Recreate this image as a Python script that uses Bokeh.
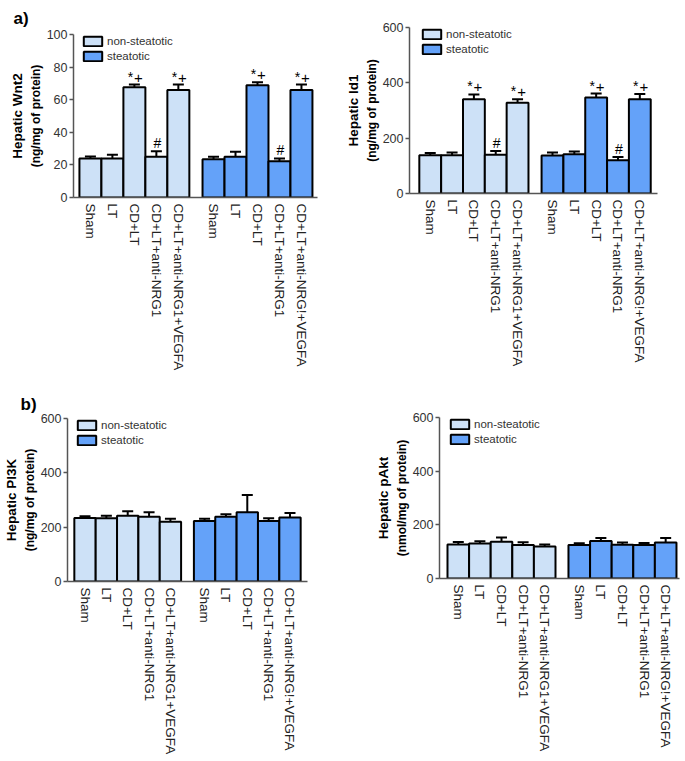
from bokeh.plotting import figure
from bokeh.models import (ColumnDataSource, Whisker, TeeHead, FixedTicker, Legend,
                          LegendItem, Title, Range1d)
from bokeh.layouts import column, row
from bokeh.embed import file_html
from bokeh.resources import INLINE
from bokeh.core.properties import value

FONT = "Liberation Sans"

# ---------------- data ----------------
groups = ["non-steatotic", "steatotic"]
labels_non = ["Sham", "LT", "CD+LT", "CD+LT+anti-NRG1", "CD+LT+anti-NRG1+VEGFA"]
labels_st = ["Sham", "LT", "CD+LT", "CD+LT+anti-NRG1", "CD+LT+anti-NRG!+VEGFA"]

wnt2_non = [24.0, 24.0, 67.6, 25.0, 66.0]
wnt2_non_err = [1.2, 2.2, 1.7, 3.3, 3.3]
wnt2_st = [23.4, 25.0, 68.9, 22.3, 66.0]
wnt2_st_err = [1.6, 3.0, 1.8, 1.7, 3.3]
wnt2_marks = ["", "", "*+", "#", "*+"]

id1_non = [138, 138, 341, 140, 328]
id1_non_err = [8, 10, 17, 14, 13]
id1_st = [137, 142, 347, 120, 341]
id1_st_err = [11, 10, 14, 12, 19]
id1_marks = ["", "", "*+", "#", "*+"]

pi3k_non = [234, 233, 242, 238, 220]
pi3k_non_err = [6, 9, 17, 17, 11]
pi3k_st = [223, 238, 255, 223, 236]
pi3k_st_err = [8, 10, 63, 10, 16]
pi3k_marks = ["", "", "", "", ""]

pakt_non = [127, 130, 137, 125, 119]
pakt_non_err = [9, 9, 16, 10, 8]
pakt_st = [125, 140, 126, 125, 134]
pakt_st_err = [6, 11, 8, 7, 17]
pakt_marks = ["", "", "", "", ""]

wnt2_ticks = [0, 20, 40, 60, 80, 100]
big_ticks = [0, 200, 400, 600]

group_colors = ["#cde1f7", "#64a2f9"]
GAP = 6   # gap between the two groups (bar width = 10)
BAR = 10


def make_panel(vals, errs, marks, y_end, y_ticks, title1, title2, width, height,
               fl, ft, fw, fh, x_start, x_end, t_off, leg_x, tag=None, tag_off=None,
               tag_standoff=10):
    p = figure(width=width, height=height, x_range=Range1d(x_start, x_end),
               y_range=Range1d(0, y_end), output_backend="svg",
               toolbar_location=None, title_location=None,
               min_border_left=fl, min_border_top=ft,
               min_border_right=width - fl - fw, min_border_bottom=height - ft - fh,
               background_fill_color="white", border_fill_color="white")
    p.xgrid.visible = False
    p.ygrid.visible = False
    p.outline_line_color = None

    n = len(labels_non)
    all_x, all_lab = [], []
    items = []
    for g in range(2):
        labs = labels_non if g == 0 else labels_st
        xs = [g * (n * BAR + GAP) + i * BAR + BAR // 2 for i in range(n)]
        upper = [v + e for v, e in zip(vals[g], errs[g])]
        src = ColumnDataSource(dict(
            x=xs, top=vals[g], upper=upper,
            star=["*" if "*" in m else "" for m in marks],
            plus=["+" if "+" in m else "" for m in marks],
            hash=["#" if "#" in m else "" for m in marks]))
        r = p.vbar(x="x", top="top", bottom=0, width=BAR, source=src,
                   fill_color=group_colors[g], line_color="black", line_width=2)
        w = Whisker(source=src, base="x", lower="top", upper="upper",
                    line_color="black", line_width=2,
                    upper_head=TeeHead(size=11, line_color="black", line_width=2),
                    lower_head=None)
        p.add_layout(w)
        p.text(x="x", y="upper", text="star", source=src, text_font=value(FONT),
               text_font_size="14px", text_align="center", text_baseline="alphabetic",
               x_offset=-4, y_offset=-8, text_color="black")
        p.text(x="x", y="upper", text="plus", source=src, text_font=value(FONT),
               text_font_size="15px", text_align="center", text_baseline="alphabetic",
               x_offset=4, y_offset=-7, text_color="black")
        p.text(x="x", y="upper", text="hash", source=src, text_font=value(FONT),
               text_font_size="14px", text_align="center", text_baseline="alphabetic",
               x_offset=1, y_offset=-8, text_color="black")
        items.append(LegendItem(label=groups[g], renderers=[r]))
        all_x += xs
        all_lab += labs

    leg = Legend(items=items, location=(leg_x, fh - 29), orientation="vertical",
                 glyph_width=23, glyph_height=12, label_height=14, spacing=1,
                 padding=0, margin=0, border_line_color=None,
                 background_fill_alpha=0, label_text_font=FONT,
                 label_text_font_size="11.5px", label_text_color="#333333",
                 label_standoff=3)
    p.add_layout(leg)

    xa = p.xaxis[0]
    xa.ticker = FixedTicker(ticks=all_x)
    xa.major_label_overrides = {x: lab for x, lab in zip(all_x, all_lab)}
    xa.major_label_orientation = "vertical"
    xa.major_tick_in = 0
    xa.major_tick_out = 0
    xa.minor_tick_in = 0
    xa.minor_tick_out = 0
    xa.axis_line_color = "#555555"
    xa.axis_line_width = 1.5
    xa.major_label_text_font = FONT
    xa.major_label_text_font_size = "13.5px"
    xa.major_label_text_color = "#222222"
    xa.major_label_standoff = 6

    ya = p.yaxis[0]
    ya.ticker = FixedTicker(ticks=y_ticks)
    ya.major_tick_in = 0
    ya.major_tick_out = 4
    ya.minor_tick_in = 0
    ya.minor_tick_out = 0
    ya.major_tick_line_color = "#555555"
    ya.major_tick_line_width = 1.5
    ya.axis_line_color = "#555555"
    ya.axis_line_width = 1.5
    ya.major_label_text_font = FONT
    ya.major_label_text_font_size = "12.5px"
    ya.major_label_text_color = "#333333"
    ya.major_label_standoff = 2

    # two-line y-axis title: first added sits closest to the axis
    p.add_layout(Title(text=title2, align="center", offset=t_off[1], standoff=2,
                       text_font=FONT, text_font_style="bold", text_font_size="12px",
                       text_color="black"), "left")
    p.add_layout(Title(text=title1, align="center", offset=t_off[0], standoff=2,
                       text_font=FONT, text_font_style="bold",
                       text_font_size="13.5px", text_color="black"), "left")
    if tag:
        p.add_layout(Title(text=tag, align="left", offset=tag_off,
                           standoff=tag_standoff, text_font=FONT,
                           text_font_style="bold", text_font_size="17px",
                           text_color="black"), "above")
    return p


p1 = make_panel([wnt2_non, wnt2_st], [wnt2_non_err, wnt2_st_err], wnt2_marks, 100,
                wnt2_ticks, "Hepatic Wnt2", "(ng/mg of protein)",
                342, 375, 73, 34, 244, 163, -2.7, 108.3,
                (14, 6), 8, "a)", -60, 13)
p2 = make_panel([id1_non, id1_st], [id1_non_err, id1_st_err], id1_marks, 600,
                big_ticks, "Hepatic Id1", "(ng/mg of protein)",
                343, 375, 61, 27, 254, 166, -4.5, 109.1,
                (3, 7), 11)
p3 = make_panel([pi3k_non, pi3k_st], [pi3k_non_err, pi3k_st_err], pi3k_marks, 600,
                big_ticks, "Hepatic PI3K", "(ng/mg of protein)",
                342, 386, 60, 43, 247, 163, -3.2, 109.2,
                (8, 6), 8, "b)", -47, 9)
p4 = make_panel([pakt_non, pakt_st], [pakt_non_err, pakt_st_err], pakt_marks, 600,
                big_ticks, "Hepatic pAkt", "(nmol/mg of protein)",
                343, 386, 97, 42, 240, 161, -3.7, 107.4,
                (6, 6), 9)

layout = column(row(column(p1), column(p2), spacing=0),
                row(column(p3), column(p4), spacing=0), spacing=0)
open("out.html", "w").write(file_html(layout, INLINE))
